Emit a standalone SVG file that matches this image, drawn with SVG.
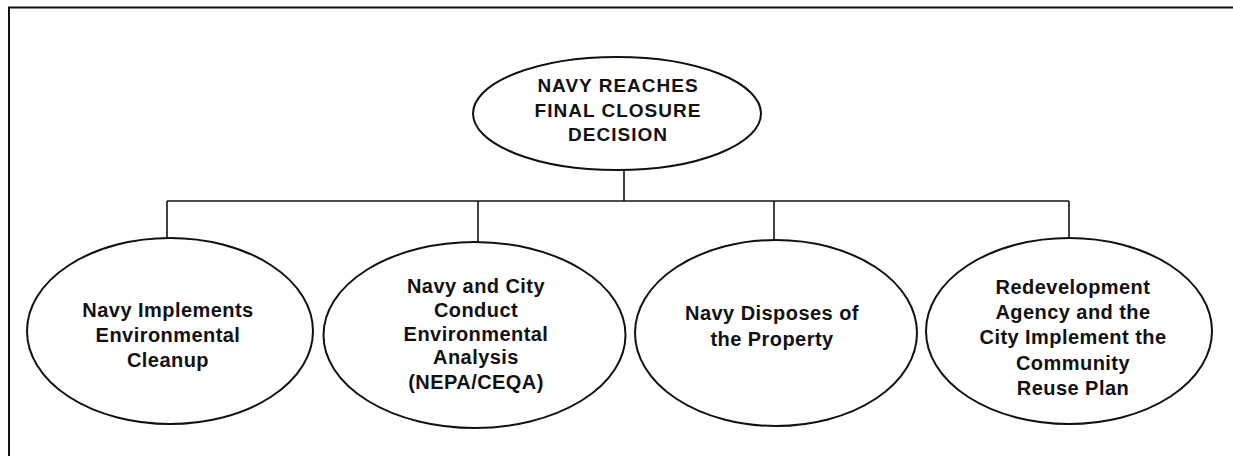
<svg xmlns="http://www.w3.org/2000/svg" width="1233" height="456" viewBox="0 0 1233 456">
<style>
.frame{fill:none;stroke:#111;stroke-width:2}
.node ellipse{fill:#fff;stroke:#111;stroke-width:2}
.conn{fill:none;stroke:#111;stroke-width:1.6}
text{font-family:"Liberation Sans",Arial,sans-serif;font-weight:bold;fill:#111;text-anchor:middle}
.top{font-size:19px;letter-spacing:1px}
.child{font-size:20px;letter-spacing:0.45px}
</style>
<rect width="1233" height="456" fill="#fff"/>
<path class="frame" d="M1233 7.5 H9 V456"/>
<g id="connectors">
<path class="conn" d="M624 170 V201"/>
<path class="conn" d="M167 201 H1069"/>
<path class="conn" d="M167 201 V238"/>
<path class="conn" d="M478 201 V242"/>
<path class="conn" d="M774 201 V240"/>
<path class="conn" d="M1069 201 V238"/>
</g>
<g id="node-top" class="node">
<ellipse cx="617" cy="113.5" rx="144" ry="56.5"/>
<text class="top" x="618" y="92">NAVY REACHES</text>
<text class="top" x="618" y="117">FINAL CLOSURE</text>
<text class="top" x="618" y="141">DECISION</text>
</g>
<g id="node-cleanup" class="node">
<ellipse cx="170" cy="331" rx="143" ry="93"/>
<text class="child" x="168" y="317">Navy Implements</text>
<text class="child" x="168" y="342">Environmental</text>
<text class="child" x="168" y="367">Cleanup</text>
</g>
<g id="node-analysis" class="node">
<ellipse cx="474.5" cy="335" rx="151" ry="93"/>
<text class="child" x="476" y="293">Navy and City</text>
<text class="child" x="476" y="317">Conduct</text>
<text class="child" x="476" y="341">Environmental</text>
<text class="child" x="476" y="364">Analysis</text>
<text class="child" x="476" y="389">(NEPA/CEQA)</text>
</g>
<g id="node-dispose" class="node">
<ellipse cx="776" cy="333" rx="141" ry="93"/>
<text class="child" x="772" y="320">Navy Disposes of</text>
<text class="child" x="772" y="346">the Property</text>
</g>
<g id="node-reuse" class="node">
<ellipse cx="1069" cy="331" rx="143" ry="93"/>
<text class="child" x="1073" y="294">Redevelopment</text>
<text class="child" x="1073" y="319">Agency and the</text>
<text class="child" x="1073" y="344">City Implement the</text>
<text class="child" x="1073" y="370">Community</text>
<text class="child" x="1073" y="395">Reuse Plan</text>
</g>
</svg>
